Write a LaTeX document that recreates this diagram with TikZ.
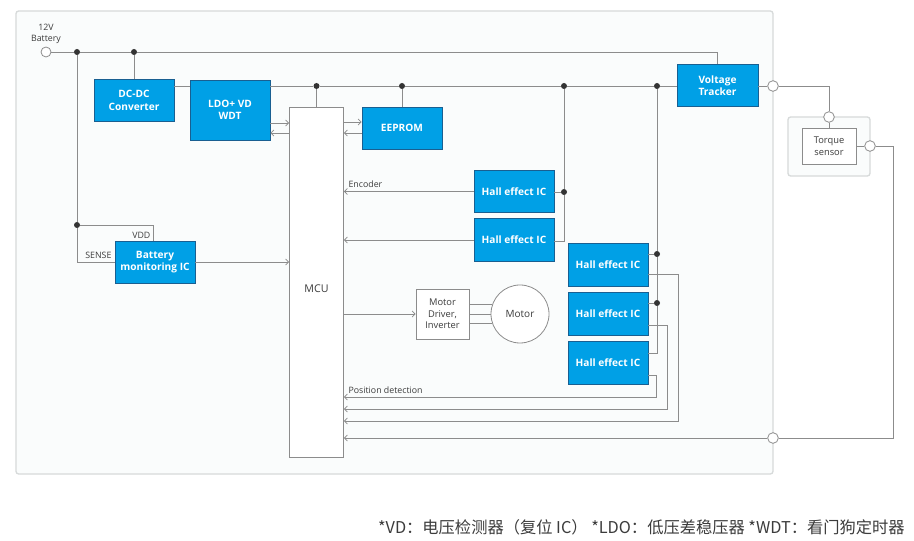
\documentclass[tikz,border=0pt]{standalone}
\usepackage{fontspec}
\setmainfont{Open Sans}
\newfontfamily\cjk{Noto Sans CJK SC}
\usetikzlibrary{arrows.meta,calc}
\definecolor{hblue}{RGB}{0,160,230}
\definecolor{hborder}{RGB}{25,95,145}
\definecolor{wirec}{RGB}{140,140,140}
\definecolor{panelline}{RGB}{215,218,218}
\definecolor{panelfill}{RGB}{250,252,252}
\definecolor{txt}{RGB}{60,60,60}
\begin{document}
\begin{tikzpicture}[x=0.75pt,y=-0.75pt,
  bluebox/.style={draw=hborder, fill=hblue, text=white, font=\fontsize{7.6}{9.2}\selectfont\bfseries, align=center, inner sep=0pt, line width=0.5pt, minimum width=60pt, minimum height=32pt},
  whitebox/.style={draw=wirec, fill=white, text=txt, align=center, inner sep=0pt, line width=0.6pt, font=\fontsize{7}{8.6}\selectfont},
  wire/.style={draw=wirec, line width=0.6pt},
  arr/.style={wire, -{Straight Barb[length=2.2pt,width=4.5pt]}},
  dot/.style={circle, fill=black!80, inner sep=0pt, minimum size=4.5pt},
  port/.style={circle, draw=wirec, fill=white, inner sep=0pt, minimum size=8pt, line width=0.6pt},
  lbl/.style={text=txt, font=\fontsize{6.6}{7.8}\selectfont, inner sep=1pt}
]
\useasboundingbox (0,0) rectangle (914,541);
\fill[white] (0,0) rectangle (914,541);
% outer panel
\draw[panelline, fill=panelfill, rounded corners=2pt, line width=1pt] (16,11) rectangle (773,474);
% torque panel
\draw[panelline, fill=panelfill, rounded corners=2pt, line width=1pt] (788,117) rectangle (870,176);

% boxes
\node[bluebox] (dcdc) at (134,100.5) {DC-DC\\Converter};
\node[bluebox, minimum height=45pt] (ldo) at (230,110) {LDO+ VD\\WDT};
\node[whitebox, minimum width=40.5pt, minimum height=262.5pt, label={[text=txt, font=\fontsize{8}{9}\selectfont, yshift=-5pt]center:MCU}] (mcu) at (316.5,282) {};
\node[bluebox, minimum height=31.5pt] (eep) at (402,128) {EEPROM};
\node[bluebox, minimum width=60.75pt] (vt) at (717.5,85.5) {Voltage\\Tracker};
\node[bluebox] (h1) at (514,191.5) {Hall effect IC};
\node[bluebox] (h2) at (514,240) {Hall effect IC};
\node[bluebox] (h3) at (608,265) {Hall effect IC};
\node[bluebox] (h4) at (608,314) {Hall effect IC};
\node[bluebox] (h5) at (608,363) {Hall effect IC};
\node[bluebox, minimum height=31.5pt] (bm) at (155,262) {Battery\\monitoring IC};
\node[whitebox, minimum width=39.75pt, minimum height=37.5pt] (md) at (442.5,314) {Motor\\Driver,\\Inverter};
\node[circle, draw=wirec, line width=0.6pt, fill=white, text=txt, minimum size=43.5pt, inner sep=0pt, font=\fontsize{7.5}{9}\selectfont] (motor) at (520,314) {Motor};
\node[whitebox, minimum width=40.5pt, minimum height=27pt] (ts) at (829,146) {Torque\\sensor};

% battery
\node[port, minimum size=7.5pt] (bat) at (46,52) {};
\node[lbl, align=center] (batl) at (46,34) {12V\\Battery};

% junctions
\node[dot] (j1) at (77,52) {};
\node[dot] (j2) at (134,52) {};
\node[dot] (j3) at (316.5,86) {};
\node[dot] (j4) at (402,86) {};
\node[dot] (j5) at (564,86) {};
\node[dot] (j6) at (657,86) {};
\node[dot] (j7) at (564,192) {};
\node[dot] (j8) at (657,254) {};
\node[dot] (j9) at (657,303) {};
\node[dot] (j10) at (77,225) {};
\coordinate (rail) at (0,86);

% ports
\node[port] (p1) at (773,86) {};
\node[port] (p2) at (829,117) {};
\node[port] (p4) at (870,146) {};
\node[port] (p3) at (773,438) {};
\coordinate (c1) at (829,86);
\coordinate (c2) at (893,146);
\coordinate (c3) at (893,438);

% supply wiring
\draw[wire] (bat.east) -- (j1) -- (j2) -| (vt.north);
\draw[wire] (j2) -- (dcdc.north);
\draw[wire] (dcdc.east |- rail) -- (ldo.west |- rail);
\draw[wire] (ldo.east |- rail) -- (j3) -- (j4) -- (j5) -- (j6) -- (vt.west |- rail);
\draw[wire] (j3) -- (mcu.north);
\draw[wire] (j4) -- (eep.north);
\draw[wire] (j5) -- (j7) -- (564,241) -- (h2.east |- 0,241);
\draw[wire] (j7) -- (h1.east |- j7);
\draw[wire] (j6) -- (j8) -- (j9) -- (657,353) -- (h5.east |- 0,353);
\draw[wire] (j8) -- (h3.east |- j8);
\draw[wire] (j9) -- (h4.east |- j9);
\draw[wire] (j1) -- (j10) |- (bm.west);
\draw[wire] (j10) -| ($(bm.north)+(-2,0)$);
\node[lbl, anchor=east] (vddl) at (152,235) {VDD};
\node[lbl, anchor=east] (sensel) at (113,255) {SENSE};

% MCU links
\draw[arr] (ldo.east |- 0,123) -- (mcu.west |- 0,123);
\draw[arr] (mcu.west |- 0,133) -- (ldo.east |- 0,133);
\draw[arr] (mcu.east |- 0,122) -- (eep.west |- 0,122);
\draw[arr] (eep.west |- 0,133) -- (mcu.east |- 0,133);
\draw[arr] (h1.west) -- (h1.west -| mcu.east);
\node[lbl, anchor=west] (encl) at (347,184) {Encoder};
\draw[arr] (h2.west) -- (h2.west -| mcu.east);
\draw[arr] (bm.east) -- (bm.east -| mcu.west);
\draw[arr] (mcu.east |- md.west) -- (md.west);
\draw[wire] (md.east |- motor.161) -- (motor.161);
\draw[wire] (md.east |- motor.west) -- (motor.west);
\draw[wire] (md.east |- motor.199) -- (motor.199);

% hall outputs
\draw[arr] (h5.east |- 0,375) -- (656,375) -- (656,397) -- (mcu.east |- 0,397);
\node[lbl, anchor=west] (posl) at (347,390) {Position detection};
\draw[arr] (h4.east |- 0,325) -- (667,325) -- (667,409) -- (mcu.east |- 0,409);
\draw[arr] (h3.east |- 0,274) -- (678,274) -- (678,421) -- (mcu.east |- 0,421);

% torque sensor loop
\draw[wire] (vt.east |- p1) -- (p1);
\draw[wire] (p1) -- (c1) -- (p2);
\draw[wire] (p2) -- (ts.north);
\draw[wire] (ts.east) -- (p4);
\draw[wire] (p4) -- (c2) -- (c3) -- (p3);
\draw[arr] (p3) -- (p3 -| mcu.east);

% footnote
\node[anchor=east, text=txt, font=\cjk\fontsize{12.2}{14}\selectfont, inner sep=0pt] (note) at (905,527) {*VD：电压检测器（复位 IC） *LDO：低压差稳压器 *WDT：看门狗定时器};
\end{tikzpicture}
\end{document}
